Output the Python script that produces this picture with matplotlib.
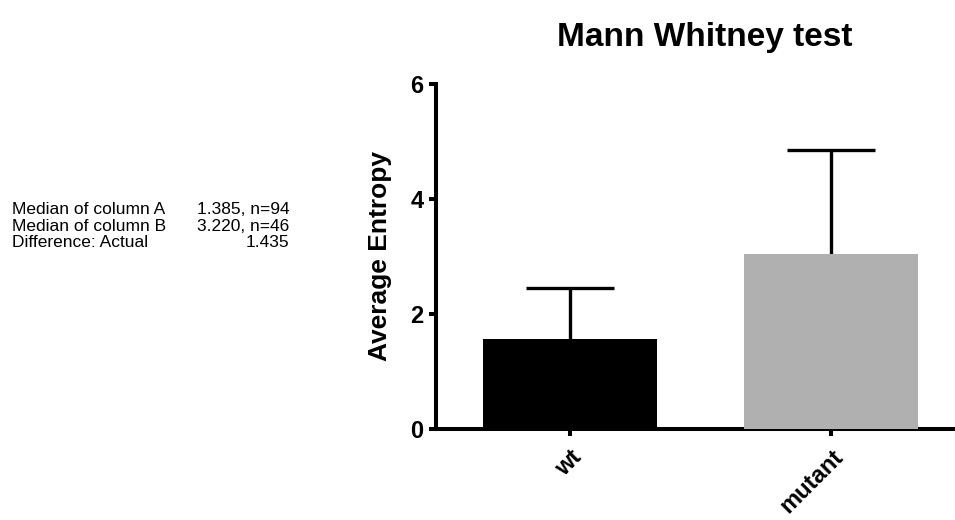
import matplotlib
matplotlib.use('Agg')
import matplotlib.pyplot as plt

matplotlib.rcParams['font.family'] = ['Liberation Sans', 'DejaVu Sans']

groups = ['wt', 'mutant']
means = [1.56, 3.04]
sd_up = [0.89, 1.82]
colors = ['#000000', '#b0b0b1']

stats_names = ['Median of column A', 'Median of column B', 'Difference: Actual']
stats_vals = ['1.385, n=94', '3.220, n=46', '1.435']

fig = plt.figure(figsize=(9.55, 5.2), dpi=100)
ax = fig.add_axes([0.4565, 0.175, 0.5435, 0.6635])

x = list(range(len(groups)))
tops = [m + s for m, s in zip(means, sd_up)]
ax.bar(x, means, width=0.667, color=colors, zorder=3)
# upper error bars only: stem + single cap
ax.vlines(x, means, tops, color='black', linewidth=2.4, zorder=2)
ax.plot(x, tops, linestyle='none', marker='_', markersize=64, mew=2.4,
        color='black', zorder=2)

ax.set_xlim(-0.515, 1.475)
ax.set_ylim(0, 6)
ax.set_yticks([0, 2, 4, 6])
ax.set_xticks(x)
ax.set_xticklabels(groups, rotation=45, ha='right', rotation_mode='anchor',
                   fontsize=17, fontweight='bold')
for lab in ax.get_yticklabels():
    lab.set_fontsize(17)
    lab.set_fontweight('bold')

for s in ['top', 'right']:
    ax.spines[s].set_visible(False)
for s in ['left', 'bottom']:
    ax.spines[s].set_linewidth(2.9)
ax.tick_params(width=2.9, length=5)
ax.tick_params(axis='y', pad=4)
ax.tick_params(axis='x', pad=7)

ax.set_ylabel('Average Entropy', fontsize=19, fontweight='bold', labelpad=13)
ax.set_title('Mann Whitney test', fontsize=24, fontweight='bold', pad=27,
             x=0.518)

for i, (n, v) in enumerate(zip(stats_names, stats_vals)):
    yy = 0.597 - i * 0.0317
    fig.text(0.0126, yy, n, fontsize=12.5, va='center')
    fig.text(0.303, yy, v, fontsize=12.5, va='center', ha='right')

fig.savefig('out.png', dpi=100)
